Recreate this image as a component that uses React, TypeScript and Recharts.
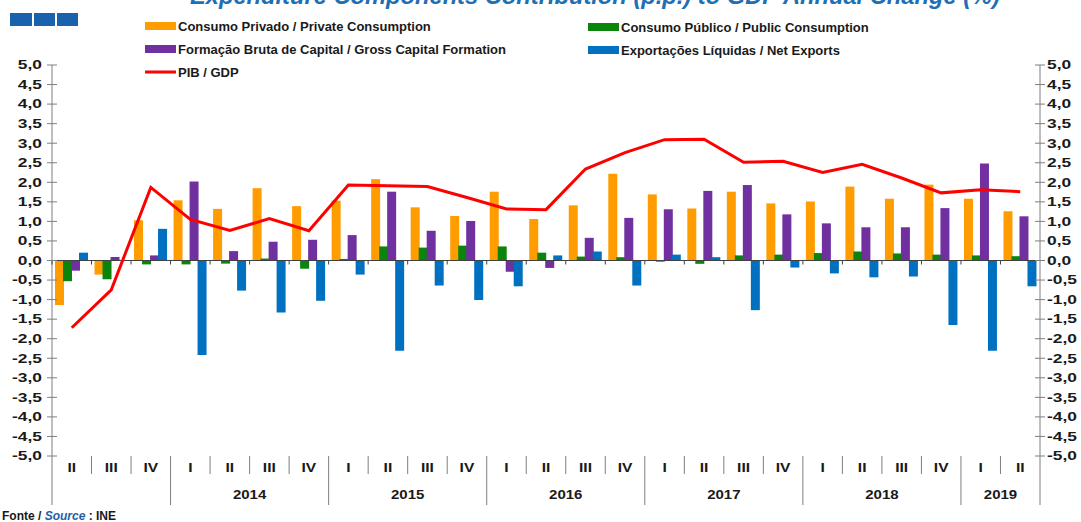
import React from 'react';
import { ComposedChart, Bar, Line, XAxis, YAxis, ReferenceLine } from 'recharts';

// ---------------- DATA ----------------
const categories = [
  '2013 II', '2013 III', '2013 IV',
  '2014 I', '2014 II', '2014 III', '2014 IV',
  '2015 I', '2015 II', '2015 III', '2015 IV',
  '2016 I', '2016 II', '2016 III', '2016 IV',
  '2017 I', '2017 II', '2017 III', '2017 IV',
  '2018 I', '2018 II', '2018 III', '2018 IV',
  '2019 I', '2019 II',
];
const quarters = categories.map((c) => c.split(' ')[1]);
const years = categories.map((c) => c.split(' ')[0]);
const labelledYears = ['2014', '2015', '2016', '2017', '2018', '2019'];

const privateConsumption = [-1.14, -0.36, 1.03, 1.54, 1.32, 1.85, 1.39, 1.53, 2.08, 1.36, 1.14, 1.76, 1.06, 1.41, 2.22, 1.69, 1.33, 1.76, 1.46, 1.51, 1.89, 1.58, 1.94, 1.58, 1.26];
const publicConsumption = [-0.53, -0.48, -0.10, -0.10, -0.08, 0.05, -0.21, 0.04, 0.36, 0.33, 0.38, 0.36, 0.20, 0.10, 0.085, -0.03, -0.085, 0.13, 0.15, 0.19, 0.23, 0.18, 0.15, 0.13, 0.11];
const grossCapitalFormation = [-0.26, 0.09, 0.13, 2.02, 0.24, 0.48, 0.53, 0.65, 1.76, 0.76, 1.01, -0.29, -0.19, 0.58, 1.09, 1.31, 1.78, 1.93, 1.18, 0.95, 0.85, 0.85, 1.34, 2.48, 1.13];
const netExports = [0.2, 0, 0.81, -2.42, -0.77, -1.33, -1.03, -0.36, -2.31, -0.64, -1.01, -0.66, 0.13, 0.23, -0.64, 0.15, 0.085, -1.27, -0.18, -0.33, -0.43, -0.41, -1.65, -2.31, -0.66];
const gdp = [-1.72, -0.75, 1.87, 1.05, 0.77, 1.07, 0.76, 1.93, 1.91, 1.89, 1.61, 1.32, 1.30, 2.34, 2.76, 3.09, 3.10, 2.51, 2.54, 2.25, 2.46, 2.11, 1.73, 1.81, 1.76];

const yTicks = [-5, -4.5, -4, -3.5, -3, -2.5, -2, -1.5, -1, -0.5, 0, 0.5, 1, 1.5, 2, 2.5, 3, 3.5, 4, 4.5, 5];

const seriesNames = {
  priv: 'Consumo Privado / Private Consumption',
  pub: 'Consumo Público / Public Consumption',
  gcf: 'Formação Bruta de Capital / Gross Capital Formation',
  nx: 'Exportações Líquidas / Net Exports',
  gdp: 'PIB / GDP',
};

const COLORS = {
  priv: '#FF9C00',
  pub: '#0A840A',
  gcf: '#7030A0',
  nx: '#0070C0',
  gdp: '#FF0000',
};

const data = categories.map((c, i) => ({
  key: c,
  priv: privateConsumption[i],
  pub: publicConsumption[i],
  gcf: grossCapitalFormation[i],
  nx: netExports[i],
  gdp: gdp[i],
}));

// ---------------- LAYOUT ----------------
const W = 1081;
const H = 522;
const TOP = 65;
const X_AXIS_H = 66;
const LEFT_W = 52;
const RIGHT_W = 41;
const PLOT_W = W - LEFT_W - RIGHT_W;
const PLOT_H = H - TOP - X_AXIS_H;
const ZERO_Y = TOP + PLOT_H / 2;
const BAND = PLOT_W / categories.length;
const AXIS_COLOR = '#7F7F7F';
const FONT = "'Liberation Sans', Arial, Helvetica, sans-serif";
const TEXT_COLOR = '#1A1A1A';

const fmt = (v: number) => v.toFixed(1).replace('.', ',');

const LeftTick = (props: any) => {
  const { x, y, payload } = props;
  const axisX = x + 10;
  return (
    <g>
      <line x1={axisX - 5} x2={axisX + 5} y1={y} y2={y} stroke={AXIS_COLOR} strokeWidth={1} />
      <text
        transform={`translate(${x},${y}) scale(1.45,1)`}
        textAnchor="end"
        dy="0.36em"
        fontSize={12}
        fontWeight="bold"
        fontFamily={FONT}
        fill={TEXT_COLOR}
      >
        {fmt(payload.value)}
      </text>
    </g>
  );
};

const RightTick = (props: any) => {
  const { x, y, payload } = props;
  const axisX = x - 7;
  return (
    <g>
      <line x1={axisX - 5} x2={axisX + 5} y1={y} y2={y} stroke={AXIS_COLOR} strokeWidth={1} />
      <text
        transform={`translate(${x},${y}) scale(1.45,1)`}
        textAnchor="start"
        dy="0.36em"
        fontSize={12}
        fontWeight="bold"
        fontFamily={FONT}
        fill={TEXT_COLOR}
      >
        {fmt(payload.value)}
      </text>
    </g>
  );
};

const XTick = (props: any) => {
  const { x, y, index } = props;
  const half = BAND / 2;
  const left = x - half;
  const yr = years[index];
  const isYearStart = index === 0 || years[index - 1] !== yr;
  const last = index === categories.length - 1;
  const n = years.filter((v) => v === yr).length;
  const showYear = isYearStart && labelledYears.includes(yr);
  return (
    <g>
      <line x1={left} x2={left} y1={ZERO_Y} y2={ZERO_Y + 4} stroke="#404040" strokeWidth={1} />
      <line x1={left} x2={left} y1={y} y2={isYearStart ? y + 49 : y + 18} stroke={AXIS_COLOR} strokeWidth={1} />
      {last && (
        <line x1={x + half} x2={x + half} y1={y} y2={y + 49} stroke={AXIS_COLOR} strokeWidth={1} />
      )}
      <text
        transform={`translate(${x},${y + 12}) scale(1.3,1)`}
        textAnchor="middle"
        dy="0.36em"
        fontSize={12}
        fontWeight="bold"
        fontFamily={FONT}
        fill={TEXT_COLOR}
      >
        {quarters[index]}
      </text>
      {showYear && (
        <text
          transform={`translate(${left + (n * BAND) / 2},${y + 39}) scale(1.25,1)`}
          textAnchor="middle"
          dy="0.36em"
          fontSize={12}
          fontWeight="bold"
          fontFamily={FONT}
          fill={TEXT_COLOR}
        >
          {yr}
        </text>
      )}
    </g>
  );
};

type LegendItem = { key: keyof typeof COLORS; x: number; y: number; line?: boolean };
const legendItems: LegendItem[] = [
  { key: 'priv', x: 145, y: 26 },
  { key: 'gcf', x: 145, y: 49 },
  { key: 'gdp', x: 145, y: 72, line: true },
  { key: 'pub', x: 588, y: 27 },
  { key: 'nx', x: 588, y: 50 },
];

export default function App() {
  return (
    <div
      style={{
        position: 'absolute',
        left: 0,
        top: 0,
        width: W,
        height: H,
        background: '#fff',
        fontFamily: FONT,
        overflow: 'hidden',
      }}
    >
      <ComposedChart
        width={W}
        height={H}
        data={data}
        margin={{ top: TOP, right: 0, bottom: 0, left: 0 }}
        barSize={9}
        barGap={-1}
      >
        <XAxis
          dataKey="key"
          height={X_AXIS_H}
          axisLine={false}
          tickLine={false}
          tickSize={0}
          tickMargin={0}
          interval={0}
          tick={<XTick />}
        />
        <YAxis
          yAxisId="left"
          width={LEFT_W}
          domain={[-5, 5]}
          ticks={yTicks}
          interval={0}
          allowDataOverflow
          axisLine={{ stroke: AXIS_COLOR }}
          tickLine={false}
          tickSize={5}
          tickMargin={5}
          tick={<LeftTick />}
        />
        <YAxis
          yAxisId="right"
          orientation="right"
          width={RIGHT_W}
          domain={[-5, 5]}
          ticks={yTicks}
          interval={0}
          allowDataOverflow
          axisLine={{ stroke: AXIS_COLOR }}
          tickLine={false}
          tickSize={5}
          tickMargin={2}
          tick={<RightTick />}
        />
        <Bar yAxisId="left" dataKey="priv" name={seriesNames.priv} fill={COLORS.priv} isAnimationActive={false} />
        <Bar yAxisId="left" dataKey="pub" name={seriesNames.pub} fill={COLORS.pub} isAnimationActive={false} />
        <Bar yAxisId="left" dataKey="gcf" name={seriesNames.gcf} fill={COLORS.gcf} isAnimationActive={false} />
        <Bar yAxisId="left" dataKey="nx" name={seriesNames.nx} fill={COLORS.nx} isAnimationActive={false} />
        <ReferenceLine yAxisId="left" y={0} stroke="#404040" strokeWidth={1} />
        <Line
          yAxisId="left"
          type="linear"
          dataKey="gdp"
          name={seriesNames.gdp}
          stroke={COLORS.gdp}
          strokeWidth={3}
          dot={false}
          activeDot={false}
          isAnimationActive={false}
        />
      </ComposedChart>

      {/* Title (cropped at top) */}
      <svg style={{ position: 'absolute', left: 0, top: 0 }} width={W} height={20}>
        <text
          x={190}
          y={4}
          textLength={810}
          lengthAdjust="spacingAndGlyphs"
          fontSize={24}
          fontWeight="bold"
          fontStyle="italic"
          fontFamily={FONT}
          fill="#1F6FB4"
        >
          Expenditure Components Contribution (p.p.) to GDP Annual Change (%)
        </text>
      </svg>

      {/* Icon */}
      <svg style={{ position: 'absolute', left: 0, top: 0 }} width={90} height={30}>
        <rect x={10} y={13} width={22} height={13} fill="#1A62AE" />
        <rect x={34} y={13} width={21} height={13} fill="#1A62AE" />
        <rect x={57} y={13} width={21} height={13} fill="#1A62AE" />
      </svg>

      {/* Legend */}
      <svg style={{ position: 'absolute', left: 0, top: 0 }} width={W} height={90}>
        {legendItems.map((it) => (
          <g key={it.key}>
            {it.line ? (
              <line x1={it.x} x2={it.x + 31} y1={it.y} y2={it.y} stroke={COLORS[it.key]} strokeWidth={3} />
            ) : (
              <rect x={it.x} y={it.y - 4} width={31} height={8} fill={COLORS[it.key]} />
            )}
            <text
              x={it.x + 33}
              y={it.y}
              dy="0.36em"
              fontSize={13}
              fontWeight="bold"
              fontFamily={FONT}
              fill={TEXT_COLOR}
            >
              {seriesNames[it.key]}
            </text>
          </g>
        ))}
      </svg>

      {/* Source */}
      <div
        style={{
          position: 'absolute',
          left: 2,
          top: 509,
          fontSize: 12,
          fontWeight: 'bold',
          color: TEXT_COLOR,
          lineHeight: '14px',
          whiteSpace: 'nowrap',
        }}
      >
        Fonte / <span style={{ color: '#1F5FA8', fontStyle: 'italic' }}>Source</span> : INE
      </div>
    </div>
  );
}
